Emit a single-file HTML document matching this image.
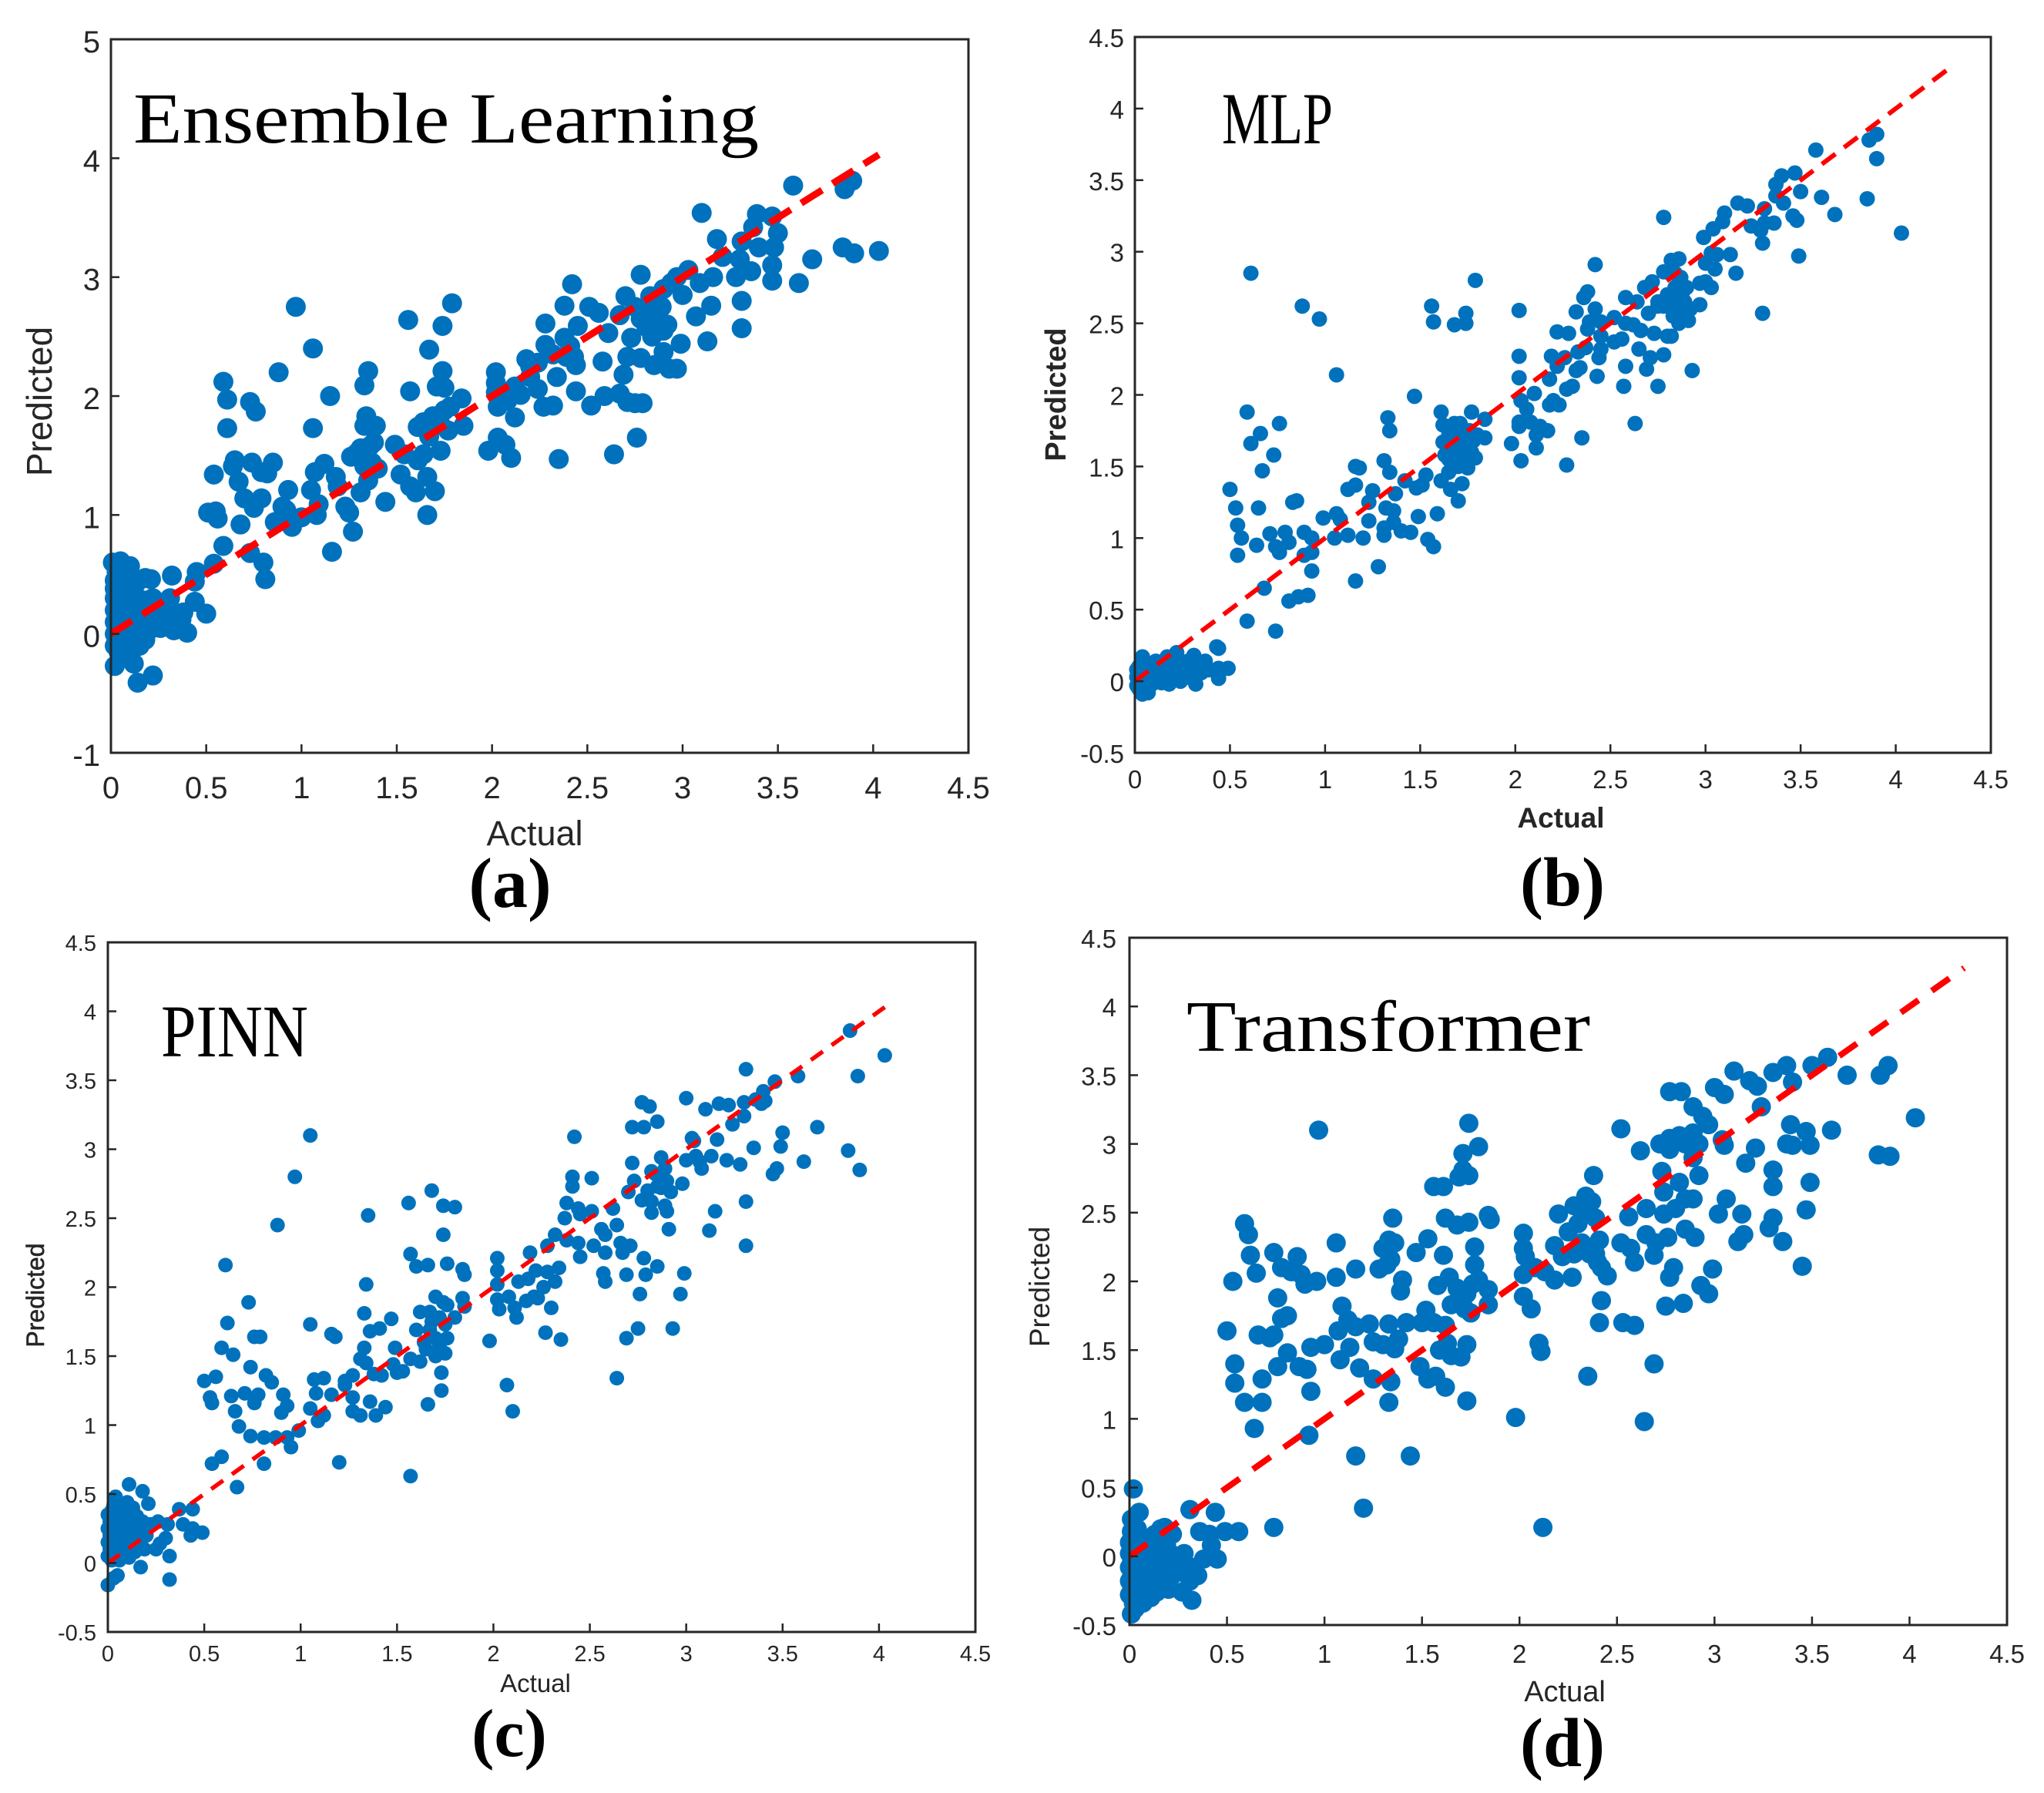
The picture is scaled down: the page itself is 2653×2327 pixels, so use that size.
<!DOCTYPE html>
<html lang="en">
<head>
<meta charset="utf-8">
<title>Predicted vs Actual - four models</title>
<style>
html,body{margin:0;padding:0;background:#fff}
svg{display:block}
text{font-family:"Liberation Sans",sans-serif;fill:#262626}
.title{font-family:"Liberation Serif",serif;fill:#000}
.cap{font-family:"Liberation Serif",serif;font-weight:bold;fill:#000;text-anchor:middle}
</style>
</head>
<body>
<svg id="chart" xmlns="http://www.w3.org/2000/svg" width="2653" height="2327" viewBox="0 0 2653 2327">
<rect width="2653" height="2327" fill="#fff"/>
<g id="panel-a"></g>
<g id="panel-b"></g>
<g id="panel-c"></g>
<g id="panel-d"></g>

<text x="694" y="1097" font-size="45" text-anchor="middle">Actual</text>
<text transform="translate(67,521) rotate(-90)" font-size="46" text-anchor="middle">Predicted</text>
<text class="title" x="173" y="185" font-size="93" textLength="812" lengthAdjust="spacingAndGlyphs">Ensemble Learning</text>
<text class="cap" x="662" y="1177" font-size="92">(a)</text>

<text x="2026" y="1074" font-size="37" font-weight="bold" text-anchor="middle">Actual</text>
<text transform="translate(1383,512) rotate(-90)" font-size="38" font-weight="bold" text-anchor="middle">Predicted</text>
<text class="title" x="1586" y="186" font-size="95" textLength="144" lengthAdjust="spacingAndGlyphs">MLP</text>
<text class="cap" x="2028" y="1175" font-size="90">(b)</text>

<text x="695" y="2196" font-size="33" text-anchor="middle">Actual</text>
<text transform="translate(57,1681) rotate(-90)" font-size="32" text-anchor="middle" stroke="#262626" stroke-width="0.6">Predicted</text>
<text class="title" x="209" y="1371" font-size="96" textLength="191" lengthAdjust="spacingAndGlyphs">PINN</text>
<text class="cap" x="661" y="2279" font-size="88">(c)</text>

<text x="2031" y="2208" font-size="38" text-anchor="middle">Actual</text>
<text transform="translate(1362,1670) rotate(-90)" font-size="37" text-anchor="middle">Predicted</text>
<text class="title" x="1540" y="1364" font-size="94" textLength="524" lengthAdjust="spacingAndGlyphs">Transformer</text>
<text class="cap" x="2028" y="2292" font-size="90">(d)</text>
</svg>
<script>
const xTickLabels = ['0','0.5','1','1.5','2','2.5','3','3.5','4','4.5'];
const xTickValues = [0,0.5,1,1.5,2,2.5,3,3.5,4,4.5];
const yTickLabelsA = ['-1','0','1','2','3','4','5'];
const yTickValuesA = [-1,0,1,2,3,4,5];
const yTickLabelsB = ['-0.5','0','0.5','1','1.5','2','2.5','3','3.5','4','4.5'];
const yTickValuesB = [-0.5,0,0.5,1,1.5,2,2.5,3,3.5,4,4.5];
const refLineA = [0,4.03];
const refLineB = [0,4.28];
const refLineC = [0,4.03];
const refLineD = [0,4.28];

const pointsA = [
[.01,.6],[.02,.45],[.02,.3],[.02,.2],[.02,.1],[.02,0],[.02,-.1],[.02,.38],[.03,.52],[.03,.25],[.03,.05],[.03,-.05],[.04,.15],[.04,.35],[.04,-.15],[.02,-.27],[.05,.61],[.05,.42],[.05,.22],[.05,.02],[.06,.3],[.06,.12],[.06,-.08],[.07,.5],[.07,.38],[.07,.18],[.08,.05],[.08,-.12],[.09,.28],[.09,.42],[.1,.57],[.1,.1],[.1,-.05],[.11,.34],[.12,-.25],[.12,.2],[.12,0],[.13,.42],[.13,.1],[.14,.3],[.14,-.41],[.15,-.1],[.16,.18],[.17,0],[.18,.47],[.18,.28],[.18,-.05],[.2,.1],[.21,.46],[.22,.3],[.22,.05],[.22,-.35],[.25,.12],[.27,.2],[.3,.08],[.31,.3],[.32,.49],[.33,.03],[.35,.16],[.37,.12],[.38,.18],[.4,.01],[.44,.27],[.44,.44],[.45,.52],[.5,.17],
[.06,.05],[.08,.2],[.1,.3],[.12,.12],[.14,.2],[.15,.02],[.17,.1],[.2,.2],[.24,.2],[.26,.05],[.28,.12],[.06,-.2],[.09,-.05],[.04,.08],[.03,.14],
[.54,1.34],[.51,1.02],[.55,1.03],[.56,.97],[.59,.74],[.54,.59],[.65,1.46],[.64,1.41],[.67,1.28],[.7,1.14],[.68,.92],[.74,1.44],[.75,1.06],[.79,1.14],[.79,1.36],[.82,1.35],[.85,1.44],[.73,.68],[.8,.6],[.81,.46],[.93,1.21],[.9,1.07],[.92,1.04],[.86,.94],[.9,.97],[.95,.9],[1,.98],[1.05,1.21],[1.07,1.36],[1.08,1],[1.09,1.09],[1.12,1.43],[1.18,1.32],[1.19,1.24],[1.23,1.07],[1.25,1.02],[1.16,.69],[1.27,.86],[1.26,1.49],[1.31,1.56],[1.31,1.19],[1.35,1.29],[1.37,1.44],[1.38,1.61],[1.33,1.41],[1.4,1.39],[1.44,1.11],[1.49,1.59],[1.52,1.34],[1.57,1.24],[1.6,1.19],[1.54,1.51],[1.61,1.46],[1.66,1.32],[1.7,1.2],[1.66,1],[1.73,1.54],[1.64,1.51],[1.61,1.74],[1.64,1.78],[1.69,1.83],[1.67,1.66],[1.73,1.76],[1.77,1.71],[1.75,1.88],[1.29,1.52],[1.34,1.5],[1.36,1.58],
[.97,2.75],[1.06,2.4],[.88,2.2],[.59,2.12],[.61,1.97],[.73,1.95],[.76,1.87],[.61,1.73],[1.15,2],[1.06,1.73],[1.56,2.64],[1.74,2.59],[1.79,2.78],[1.67,2.39],[1.74,2.21],[1.35,2.21],[1.33,2.09],[1.57,2.04],[1.71,2.08],[1.75,2.07],[1.84,1.98],[1.85,1.75],[1.78,1.91],[1.34,1.83],[1.33,1.75],[1.39,1.75],
[1.98,1.54],[2.03,1.65],[2.07,1.59],[2.1,1.48],[2.12,1.82],[2.02,2.2],[2.02,2.11],[2.02,2.03],[2.03,1.91],[2.08,1.96],[2.12,2.08],[2.15,2.01],[2.18,2.31],[2.2,2.16],[2.24,2.06],[2.27,1.91],[2.32,1.92],[2.35,1.47],[2.28,2.61],[2.28,2.43],[2.34,2.16],[2.38,2.76],[2.38,2.49],[2.42,2.94],[2.45,2.59],[2.39,2.33],[2.44,2.26],[2.44,2.04],[2.52,1.92],[2.51,2.75],[2.56,2.7],[2.58,2.29],[2.59,2],[2.64,1.51],[2.61,2.53],[2.67,2.68],[2.67,2.02],[2.69,2.18],[2.71,1.95],[2.71,2.33],[2.73,2.49],[2.7,2.84],[2.76,1.65],[2.75,1.94],[2.79,1.94],[2.78,2.32],[2.78,3.02],[2.84,2.5],[2.85,2.26],[2.9,2.37],[2.9,2.9],[2.92,2.6],[2.93,2.23],[2.97,2.23],[2.99,2.44],[2.89,2.75],[2.83,2.7],[2.86,2.65],[2.83,2.84],[2.78,2.65],[2.94,2.95],[2.97,3],[3.03,3.06],[3,2.85],[3.07,2.67],[3.09,2.95],[3.13,2.46],[3.15,2.76],[3.1,3.54],[3.18,3.32],[3.16,3],[3.21,3.17],[3.28,3],[3.31,3.3],[3.31,2.8],[3.31,2.57],[3.3,3.15],[3.36,3.05],[3.37,3.42],[3.39,3.53],[3.4,3.25],[3.47,3.51],[3.5,3.37],[3.48,3.25],[3.47,3.1],[3.47,2.97],[3.58,3.77],[3.61,2.95],[3.68,3.15],[3.84,3.25],[3.9,3.2],[4.03,3.22],[3.85,3.74],[3.89,3.81],[2.2,2.25],[2.24,2.28],[2.32,2.35],[2.41,2.42],[2.43,2.33],[2.75,2.75],[2.81,2.58],[2.9,2.55]
];

const pointsB = [
[.01,.08],[.01,.03],[.01,-.03],[.02,.1],[.02,.05],[.02,0],[.02,-.05],[.03,.12],[.03,.02],[.03,-.07],[.04,.17],[.04,.07],[.04,-.09],[.05,.13],[.05,.03],[.05,-.04],[.06,.1],[.07,.01],[.07,-.08],[.08,.05],[.09,-.02],[.1,.08],[.11,.14],[.12,.04],[.13,.1],[.14,-.01],[.16,.06],[.17,.17],[.18,-.02],[.18,.1],[.2,.03],[.21,.12],[.22,.2],[.22,.06],[.24,0],[.25,.09],[.27,.05],[.28,.14],[.3,.02],[.31,.18],[.32,-.02],[.33,.09],[.35,.06],[.37,.14],[.39,.08],[.43,.24],[.44,.23],[.44,.02],[.44,.09],[.49,.09],
[.61,2.85],[.88,2.62],[.97,2.53],[1.06,2.14],[.59,1.88],[.61,1.66],[.66,1.73],[.76,1.8],[.73,1.58],[.67,1.47],[.5,1.34],[.53,1.21],[.65,1.21],[.54,1.09],[.56,1],[.54,.88],[.64,.95],[.71,1.03],[.79,1.04],[.74,.94],[.76,.9],[.81,.97],[.83,1.25],[.85,1.26],[.89,1.04],[.93,1],[.89,.88],[.93,.9],[.93,.77],[.68,.65],[.59,.42],[.74,.35],[.81,.56],[.86,.59],[.91,.6],[.99,1.14],[1.06,1.17],[1.08,1.13],[1.05,1],[1.12,1.02],[1.12,1.34],[1.16,1.5],[1.18,1.49],[1.16,1.37],[1.2,1],[1.16,.7],[1.23,1.25],[1.23,1.12],[1.25,1.33],[1.28,.8],[1.31,1.54],[1.33,1.84],[1.34,1.75],[1.34,1.46],[1.31,1.02],[1.31,1.07],[1.32,1.21],[1.36,1.19],[1.36,1.11],[1.37,1.31],[1.4,1.05],[1.42,1.4],[1.45,1.04],[1.49,1.15],[1.48,1.35],[1.51,1.37],[1.53,1.44],[1.47,1.99],[1.54,.99],[1.57,.94],[1.56,2.62],[1.57,2.51],[1.68,2.49],[1.74,2.57],[1.74,2.5],[1.79,2.8],[1.59,1.17],[1.61,1.88],[1.62,1.79],[1.61,1.4],[1.65,1.46],[1.66,1.34],[1.7,1.26],[1.72,1.38],[1.77,1.88],[1.84,1.83],[1.84,1.7],[1.79,1.56],[1.75,1.49],
[1.62,1.67],[1.63,1.58],[1.65,1.72],[1.66,1.55],[1.68,1.62],[1.69,1.76],[1.7,1.5],[1.71,1.8],[1.72,1.65],[1.73,1.7],[1.74,1.57],[1.75,1.62],[1.76,1.75],[1.77,1.6],[1.78,1.68],[1.8,1.72],[1.68,1.8],[1.65,1.55],[1.72,1.55],
[1.98,1.66],[2.03,1.54],[2.02,2.59],[2.02,2.27],[2.02,2.12],[2.03,1.96],[2.02,1.81],[2.02,1.78],[2.06,1.9],[2.08,1.81],[2.1,2.01],[2.11,1.72],[2.11,1.63],[2.13,1.78],[2.17,1.75],[2.18,1.93],[2.19,2.27],[2.18,2.11],[2.2,1.96],[2.22,2.2],[2.22,2.44],[2.23,1.93],[2.26,2.26],[2.28,2.43],[2.27,2.04],[2.3,2.06],[2.27,1.51],[2.35,1.7],[2.32,2.58],[2.36,2.68],[2.38,2.72],[2.32,2.17],[2.34,2.19],[2.33,2.3],[2.37,2.33],[2.39,2.51],[2.42,2.91],[2.42,2.6],[2.38,2.46],[2.43,2.13],[2.44,2.26],[2.45,2.32],[2.45,2.41],[2.45,2.51],[2.52,2.54],[2.52,2.37],[2.56,2.39],[2.58,2.2],[2.57,2.06],[2.58,2.68],[2.58,2.5],[2.62,2.49],[2.63,1.8],[2.64,2.65],[2.66,2.45],[2.65,2.32],[2.68,2.75],[2.7,2.57],[2.69,2.18],[2.71,2.26],[2.72,2.79],[2.73,2.43],[2.75,2.06],[2.75,2.65],[2.78,3.24],[2.78,2.28],[2.78,2.86],[2.8,2.41],[2.82,2.94],[2.82,2.41],[2.86,2.95],
[2.8,2.7],[2.82,2.62],[2.83,2.55],[2.84,2.75],[2.85,2.6],[2.86,2.68],[2.86,2.5],[2.87,2.82],[2.88,2.72],[2.88,2.55],[2.89,2.65],[2.9,2.58],[2.9,2.75],[2.91,2.52],[2.92,2.6],[2.84,2.85],[2.78,2.62],[2.75,2.62],
[2.93,2.17],[2.97,2.63],[2.97,2.78],[2.99,3.1],[3,2.92],[3,2.79],[3.03,2.99],[3.03,2.75],[3.04,3.16],[3.05,2.88],[3.06,2.98],[3.09,3.21],[3.1,3.27],[3.13,2.98],[3.16,2.85],[3.17,3.34],[3.22,3.32],[3.24,3.18],[3.29,3.15],[3.31,3.3],[3.31,3.2],[3.3,3.06],[3.3,2.57],[3.36,3.2],[3.37,3.39],[3.37,3.47],[3.4,3.53],[3.41,3.34],[3.46,3.25],[3.48,3.22],[3.47,3.55],[3.5,3.42],[3.49,2.97],[3.58,3.71],[3.61,3.38],[3.68,3.26],[3.85,3.37],[3.86,3.78],[3.9,3.82],[3.9,3.65],[4.03,3.13]
];

const pointsC = [
[0,.05],[0,.15],[0,.25],[0,.35],[.01,.1],[.01,.2],[.01,.3],[.02,.38],[.02,.02],[.02,.14],[.03,.24],[.03,.42],[.03,.32],[.04,.48],[.04,.08],[.04,.18],[.05,.28],[.05,.38],[.05,.12],[.06,.22],[.06,.32],[.06,.02],[.07,.42],[.07,.16],[.07,.26],[.08,.34],[.08,.08],[.09,.2],[.09,.3],[.1,.44],[.1,.12],[.1,.36],[.11,.57],[.11,.24],[.11,.04],[.12,.32],[.12,.16],[.13,.4],[.13,.26],[.14,.08],[.14,.2],[.15,.32],[.15,.34],[.16,.14],[.17,-.03],[.17,.24],[.18,.52],[.18,.3],[.19,.1],[.2,.2],[.21,.43],[.22,.28],[.25,.1],[.26,.3],[.27,.14],[.3,.18],[.31,.28],[0,-.16],[.03,-.11],[.05,-.09],[.32,-.12],[.32,.05],[.37,.39],[.44,.39],[.49,.22],[.44,.25],[.43,.2],[.39,.28],
[.03,.15],[.08,.2],[.06,.12],[.1,.25],[.12,.08],[.14,.14],[.02,.28],[.09,.38],
[1.05,3.1],[.97,2.8],[.88,2.45],[.61,2.16],[.62,1.74],[.73,1.89],[.59,1.56],[.65,1.51],[.76,1.64],[.79,1.64],[.74,1.42],[.5,1.32],[.56,1.35],[.53,1.2],[.54,1.16],[.64,1.21],[.66,1.1],[.71,1.23],[.76,1.16],[.78,1.22],[.82,1.36],[.85,1.31],[.68,.99],[.74,.92],[.81,.91],[.87,.91],[.93,.91],[.95,.84],[.99,.96],[.91,1.22],[.93,1.14],[.9,1.09],[.54,.72],[.59,.77],[.67,.55],[.81,.72],[1.05,1.73],[1.07,1.33],[1.12,1.34],[1.08,1.23],[1.05,1.12],[1.09,1.03],[1.12,1.07],[1.16,1.66],[1.18,1.64],[1.16,1.22],[1.2,.73],[1.23,1.32],[1.23,1.29],[1.27,1.36],[1.27,1.2],[1.27,1.1],[1.31,1.07],[1.35,2.52],[1.34,2.02],[1.33,1.81],[1.33,1.56],[1.31,1.48],[1.34,1.45],[1.36,1.68],[1.41,1.7],[1.36,1.17],[1.38,1.37],[1.42,1.36],[1.39,1.07],[1.44,1.13],[1.47,1.77],[1.49,1.56],[1.48,1.44],[1.5,1.38],[1.53,1.39],[1.57,1.48],[1.57,.63],[1.56,2.61],[1.57,2.24],[1.6,2.15],[1.66,2.16],[1.68,2.7],[1.74,2.59],[1.8,2.58],[1.74,2.38],[1.76,2.17],[1.84,2.13],[1.85,2.09],[1.84,1.92],[1.85,1.86],[1.8,1.78],[1.6,1.69],[1.62,1.82],[1.67,1.82],[1.7,1.93],[1.74,1.89],[1.76,1.87],[1.75,1.73],[1.67,1.69],[1.7,1.63],[1.76,1.63],[1.75,1.52],[1.7,1.5],[1.62,1.46],[1.65,1.55],[1.73,1.38],[1.73,1.25],[1.66,1.15],[1.72,1.78],[1.64,1.6],[1.68,1.75],[1.72,1.58],
[1.98,1.61],[2.07,1.29],[2.1,1.1],[2.02,2.21],[2.02,2.12],[2.02,2.02],[2.02,1.91],[2.03,1.84],[2.08,1.93],[2.11,1.85],[2.12,1.78],[2.13,2.04],[2.18,2.06],[2.19,2.25],[2.17,1.9],[2.21,1.93],[2.23,1.92],[2.26,2],[2.22,2.12],[2.28,2.11],[2.34,2.14],[2.32,2.04],[2.3,1.85],[2.27,1.67],[2.35,1.62],[2.28,2.3],[2.32,2.38],[2.38,2.34],[2.37,2.5],[2.38,2.61],[2.41,2.8],[2.41,2.73],[2.42,3.09],[2.44,2.57],[2.45,2.53],[2.44,2.32],[2.45,2.22],[2.51,2.79],[2.51,2.55],[2.52,2.3],[2.56,2.42],[2.58,2.38],[2.58,2.25],[2.57,2.1],[2.58,2.04],[2.62,2.57],[2.64,2.45],[2.64,1.34],[2.66,2.32],[2.67,2.25],[2.71,2.3],[2.69,2.09],[2.69,1.63],[2.76,1.95],[2.75,1.7],[2.72,3.16],[2.72,2.9],[2.73,2.77],[2.7,2.69],[2.77,3.34],[2.78,3.16],[2.81,3.31],[2.78,2.21],[2.79,2.09],[2.85,2.15],[2.85,3.2],[2.82,2.54],[2.77,2.63],[2.82,2.62],[2.82,2.84],[2.87,2.94],[2.89,2.86],[2.9,2.77],[2.85,2.73],[2.92,2.69],[2.89,2.59],[2.9,2.55],[2.91,2.42],[2.93,1.7],[2.97,1.95],[2.99,2.1],[2.98,2.75],[3,3.37],[3,2.92],[3.03,3.08],[3.04,3.06],[3.05,2.95],[3.07,2.91],[3.08,2.86],[3.1,3.29],[3.13,2.95],[3.16,3.07],[3.17,3.33],[3.22,3.32],[3.21,2.92],[3.24,3.18],[3.12,2.41],[3.15,2.55],[3.28,2.89],[3.3,3.24],[3.3,3.34],[3.31,3.58],[3.31,2.62],[3.31,2.3],[3.35,3.01],[3.36,3.36],[3.39,3.33],[3.4,3.42],[3.41,3.35],[3.45,2.82],[3.47,2.86],[3.46,3.49],[3.49,3.02],[3.5,3.12],[3.58,3.53],[3.61,2.91],[3.68,3.16],[3.84,2.99],[3.85,3.86],[3.89,3.53],[3.9,2.85],[4.03,3.68],[2.84,2.82],[2.87,2.72],[2.8,2.7]
];

const pointsD = [
[.02,.49],[.05,.32],[.01,.27],[.31,.34],[.44,.32],[.56,.18],[.74,.21],[.49,.18],[.36,.18],[.41,.16],[.45,-.02],[.32,-.32],[.01,-.42],[.03,-.38],[0,.1],[0,.02],[0,-.08],[0,-.18],[0,-.28],[.01,.18],[.01,.05],[.01,-.05],[.01,-.15],[.01,-.25],[.02,.14],[.02,-.34],[.02,-.02],[.02,-.12],[.02,-.22],[.03,.08],[.03,-.06],[.03,-.16],[.03,-.28],[.04,.2],[.04,.02],[.04,-.1],[.04,-.22],[.05,.12],[.05,-.02],[.05,-.3],[.06,-.14],[.06,-.24],[.07,.06],[.07,-.06],[.07,-.34],[.08,-.18],[.08,-.28],[.09,.02],[.1,-.1],[.1,-.22],[.11,-.3],[.12,.1],[.12,-.04],[.13,.16],[.13,-.16],[.14,-.26],[.15,.04],[.15,-.1],[.16,.2],[.17,-.02],[.17,-.2],[.18,.21],[.19,.08],[.19,-.1],[.2,-.24],[.21,.02],[.22,.16],[.22,-.14],[.25,-.06],[.27,-.26],[.28,.02],[.29,-.1],[.31,-.18],[.33,-.08],[.35,-.14],[.38,-.02],[.42,.08],
[.97,3.1],[1.74,3.15],[1.79,2.98],[1.71,2.93],[1.71,2.81],[1.69,2.76],[1.74,2.77],[1.56,2.69],[1.61,2.69],[1.62,2.46],[1.68,2.41],[1.74,2.43],[1.84,2.48],[1.85,2.45],[1.77,2.25],[1.77,2.12],[1.79,2.01],[1.84,1.94],[1.84,1.83],[1.35,2.46],[1.33,2.3],[1.36,2.28],[1.3,2.24],[1.34,2.16],[1.28,2.09],[1.32,2.12],[1.53,2.31],[1.47,2.21],[1.61,2.19],[1.4,2.01],[1.39,1.93],[1.58,1.97],[1.64,2.03],[1.06,2.28],[1.06,2.03],[1.16,2.09],[.59,2.42],[.61,2.34],[.62,2.19],[.65,2.06],[.53,2],[.74,2.21],[.86,2.18],[.78,2.1],[.83,2.07],[.88,2.05],[.9,1.98],[.96,2],[.76,1.88],[.81,1.75],[.78,1.73],[.5,1.64],[.66,1.61],[.72,1.59],[.74,1.61],[.81,1.48],[.76,1.38],[.87,1.38],[.91,1.36],[.93,1.52],[1,1.54],[.54,1.4],[.54,1.26],[.68,1.29],[.59,1.12],[.68,1.12],[.64,.93],[.93,1.2],[.92,.88],[1.07,1.64],[1.09,1.82],[1.12,1.72],[1.13,1.52],[1.08,1.43],[1.16,1.67],[1.23,1.69],[1.18,1.37],[1.25,1.29],[1.25,1.56],[1.3,1.54],[1.33,1.69],[1.38,1.58],[1.36,1.51],[1.42,1.7],[1.34,1.27],[1.33,1.12],[1.5,1.7],[1.52,1.79],[1.49,1.38],[1.53,1.29],[1.57,1.31],[1.62,1.23],[1.73,1.13],[1.16,.73],[1.44,.73],[1.2,.35],[1.56,1.7],[1.62,1.68],[1.59,1.5],[1.65,1.46],[1.7,1.45],[1.73,1.54],[1.63,1.55],[1.65,1.83],[1.7,1.87],[1.73,1.91],[1.75,1.77],[1.68,1.95],[1.76,1.98],[1.72,1.8],
[1.98,1.01],[2.11,1.49],[2.1,1.55],[2.06,1.8],[2.02,1.89],[2.02,2.35],[2.02,2.24],[2.03,2.18],[2.02,2.05],[2.08,2.1],[2.12,.21],[2.13,2.07],[2.18,2.01],[2.18,2.26],[2.2,2.49],[2.22,2.18],[2.27,2.03],[2.25,2.36],[2.28,2.55],[2.34,2.62],[2.32,2.28],[2.37,2.58],[2.39,2.46],[2.38,2.77],[2.41,2.3],[2.39,2.2],[2.42,1.86],[2.41,1.7],[2.35,1.31],[2.45,2.04],[2.42,2.1],[2.52,3.11],[2.56,2.47],[2.52,2.28],[2.53,1.7],[2.59,1.68],[2.57,2.24],[2.59,2.14],[2.62,2.95],[2.65,2.53],[2.64,.98],[2.65,2.34],[2.7,2.28],[2.69,2.19],[2.69,1.4],[2.72,3],[2.73,2.8],[2.74,2.65],[2.74,2.49],[2.76,2.32],[2.77,2.03],[2.79,2.1],[2.75,1.82],[2.84,1.84],[2.77,3.38],[2.83,3.38],[2.77,3.04],[2.77,2.96],[2.82,3.06],[2.85,2.6],[2.8,2.53],[2.85,2.38],[2.89,2.6],[2.9,2.32],[2.89,3.27],[2.94,3.2],[2.89,3.08],[2.92,2.77],[2.89,2.9],[2.97,3.14],[2.93,1.97],[2.97,1.91],[2.99,2.09],[3.04,3.03],[3.05,2.99],[3,3.41],[3.05,3.36],[3.02,2.49],[3.06,2.6],[3.1,3.53],[3.16,2.86],[3.14,2.49],[3.15,2.34],[3.12,2.29],[3.18,3.46],[3.22,3.42],[3.21,2.97],[3.24,3.27],[3.28,2.39],[3.3,3.52],[3.3,2.46],[3.3,2.69],[3.3,2.81],[3.35,2.29],[3.37,3],[3.37,3.57],[3.39,3.14],[3.4,2.99],[3.4,3.45],[3.47,3.09],[3.49,2.99],[3.47,2.52],[3.49,2.72],[3.45,2.11],[3.5,3.57],[3.58,3.63],[3.6,3.1],[3.68,3.5],[3.84,2.92],[3.9,2.91],[3.85,3.5],[3.89,3.57],[4.03,3.19],[2.3,2.42],[2.28,2.2],[2.34,2.5],[2.36,2.2],[2.4,2.14],[2.85,3],[2.82,2.72],[2.92,3]
];

const SVGNS = 'http://www.w3.org/2000/svg';

function makeAxis(d0, d1, p0, p1) {
  return function (v) { return p0 + (v - d0) / (d1 - d0) * (p1 - p0); };
}

function drawPanel(cfg) {
  const g = document.getElementById(cfg.id);
  const xScale = makeAxis(0, 4.5, cfg.left, cfg.right);
  const yScale = makeAxis(cfg.yMin, cfg.yMax, cfg.bottom, cfg.top);

  cfg.points.forEach(function (p) {
    const c = document.createElementNS(SVGNS, 'circle');
    
    
    c.setAttribute('cx', xScale(p[0]));
    c.setAttribute('cy', yScale(p[1]));
    c.setAttribute('r', cfg.radius);
    c.setAttribute('fill', '#0072BD');
    g.appendChild(c);
  });

  const ref = document.createElementNS(SVGNS, 'line');
  
  
  ref.setAttribute('x1', xScale(cfg.ref[0]));
  ref.setAttribute('y1', yScale(cfg.ref[0]));
  ref.setAttribute('x2', xScale(cfg.ref[1]));
  ref.setAttribute('y2', yScale(cfg.ref[1]));
  ref.setAttribute('stroke', '#FF0000');
  ref.setAttribute('stroke-width', cfg.lineWidth);
  ref.setAttribute('stroke-dasharray', cfg.dash);
  g.appendChild(ref);

  const box = document.createElementNS(SVGNS, 'rect');
  
  
  box.setAttribute('x', cfg.left);
  box.setAttribute('y', cfg.top);
  box.setAttribute('width', cfg.right - cfg.left);
  box.setAttribute('height', cfg.bottom - cfg.top);
  box.setAttribute('fill', 'none');
  box.setAttribute('stroke', '#262626');
  box.setAttribute('stroke-width', '3');
  g.appendChild(box);

  xTickValues.forEach(function (v, i) {
    const t = document.createElementNS(SVGNS, 'line');
    
    
    t.setAttribute('x1', xScale(v));
    t.setAttribute('x2', xScale(v));
    t.setAttribute('y1', cfg.bottom);
    t.setAttribute('y2', cfg.bottom - 11);
    t.setAttribute('stroke', '#262626');
    t.setAttribute('stroke-width', '2.5');
    g.appendChild(t);

    const lab = document.createElementNS(SVGNS, 'text');
    
    
    lab.setAttribute('x', xScale(v));
    lab.setAttribute('y', cfg.xLabelY);
    lab.setAttribute('font-size', cfg.fontSize);
    lab.setAttribute('text-anchor', 'middle');
    lab.textContent = xTickLabels[i];
    g.appendChild(lab);
  });

  cfg.yValues.forEach(function (v, i) {
    const t = document.createElementNS(SVGNS, 'line');
    
    
    t.setAttribute('x1', cfg.left);
    t.setAttribute('x2', cfg.left + 11);
    t.setAttribute('y1', yScale(v));
    t.setAttribute('y2', yScale(v));
    t.setAttribute('stroke', '#262626');
    t.setAttribute('stroke-width', '2.5');
    g.appendChild(t);

    const lab = document.createElementNS(SVGNS, 'text');
    
    
    lab.setAttribute('x', cfg.yLabelX);
    lab.setAttribute('y', yScale(v) + cfg.yLabelDy);
    lab.setAttribute('font-size', cfg.fontSize);
    lab.setAttribute('text-anchor', 'end');
    lab.textContent = cfg.yLabels[i];
    g.appendChild(lab);
  });
}

drawPanel({id:'panel-a',points:pointsA,ref:refLineA,yValues:yTickValuesA,yLabels:yTickLabelsA,yMin:-1,yMax:5,left:144,right:1257,top:51,bottom:977,radius:13,lineWidth:9,dash:'32 16',fontSize:40,xLabelY:1036,yLabelX:130,yLabelDy:17});
drawPanel({id:'panel-b',points:pointsB,ref:refLineB,yValues:yTickValuesB,yLabels:yTickLabelsB,yMin:-0.5,yMax:4.5,left:1473,right:2584,top:48,bottom:977,radius:10,lineWidth:6,dash:'22 14',fontSize:33,xLabelY:1023,yLabelX:1459,yLabelDy:13});
drawPanel({id:'panel-c',points:pointsC,ref:refLineC,yValues:yTickValuesB,yLabels:yTickLabelsB,yMin:-0.5,yMax:4.5,left:140,right:1266,top:1223,bottom:2118,radius:9.5,lineWidth:5.5,dash:'19 14',fontSize:29,xLabelY:2156,yLabelX:125,yLabelDy:11});
drawPanel({id:'panel-d',points:pointsD,ref:refLineD,yValues:yTickValuesB,yLabels:yTickLabelsB,yMin:-0.5,yMax:4.5,left:1466,right:2605,top:1217,bottom:2109,radius:12.5,lineWidth:8,dash:'28 21',fontSize:33,xLabelY:2158,yLabelX:1449,yLabelDy:13});
</script>
</body>
</html>
